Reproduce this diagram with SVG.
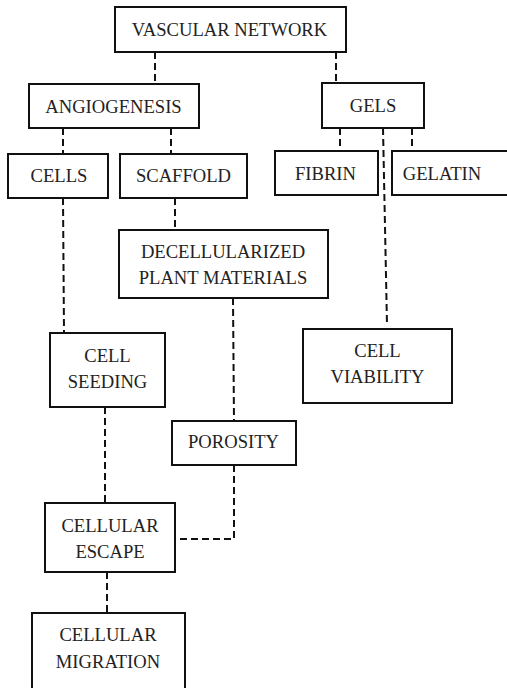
<svg xmlns="http://www.w3.org/2000/svg" width="507" height="688" viewBox="0 0 507 688">
<style>
rect{fill:#fff;stroke:#111;stroke-width:2}
text{font-family:"Liberation Serif","DejaVu Serif",serif;font-size:18.6px;fill:#222;text-anchor:middle}
.c path{fill:none;stroke:#111;stroke-width:2;stroke-dasharray:7,4}
</style>
<rect x="0" y="0" width="507" height="688" style="stroke:none"/>
<g class="c" id="connectors">
<path d="M155,52V84"/>
<path d="M336,52V83"/>
<path d="M63,128V154"/>
<path d="M171,128V154"/>
<path d="M340,128V151"/>
<path d="M412,128V151"/>
<path d="M383,128L387,325"/>
<path d="M63,198L64,333"/>
<path d="M175,198V230"/>
<path d="M233,298L234,421"/>
<path d="M105,407V503"/>
<path d="M234,465V539H176"/>
<path d="M107,572V613"/>
</g>
<g id="vascular"><rect x="115" y="7" width="231" height="45"/><text x="229.5" y="35.5">VASCULAR NETWORK</text></g>
<g id="angiogenesis"><rect x="29" y="84" width="170" height="44"/><text x="113.5" y="113">ANGIOGENESIS</text></g>
<g id="gels"><rect x="322" y="83" width="102" height="45"/><text x="373" y="112">GELS</text></g>
<g id="cells"><rect x="8" y="154" width="100" height="44"/><text x="59" y="182">CELLS</text></g>
<g id="scaffold"><rect x="120" y="154" width="127" height="44"/><text x="183.5" y="182">SCAFFOLD</text></g>
<g id="fibrin"><rect x="275" y="151" width="103" height="44"/><text x="325.5" y="180">FIBRIN</text></g>
<g id="gelatin"><rect x="392" y="151" width="130" height="44"/><text x="442" y="180">GELATIN</text></g>
<g id="decell"><rect x="119" y="230" width="209" height="68"/><text x="223" y="258">DECELLULARIZED</text><text x="223" y="284">PLANT MATERIALS</text></g>
<g id="seeding"><rect x="50" y="333" width="115" height="74"/><text x="107.5" y="362">CELL</text><text x="107.5" y="388">SEEDING</text></g>
<g id="viability"><rect x="303" y="329" width="149" height="74"/><text x="377.5" y="357">CELL</text><text x="377.5" y="383">VIABILITY</text></g>
<g id="porosity"><rect x="172" y="421" width="124" height="44"/><text x="233.5" y="448">POROSITY</text></g>
<g id="escape"><rect x="45" y="503" width="130" height="69"/><text x="110" y="532">CELLULAR</text><text x="110" y="558">ESCAPE</text></g>
<g id="migration"><rect x="32" y="613" width="153" height="90"/><text x="108" y="641">CELLULAR</text><text x="108" y="668">MIGRATION</text></g>
</svg>
